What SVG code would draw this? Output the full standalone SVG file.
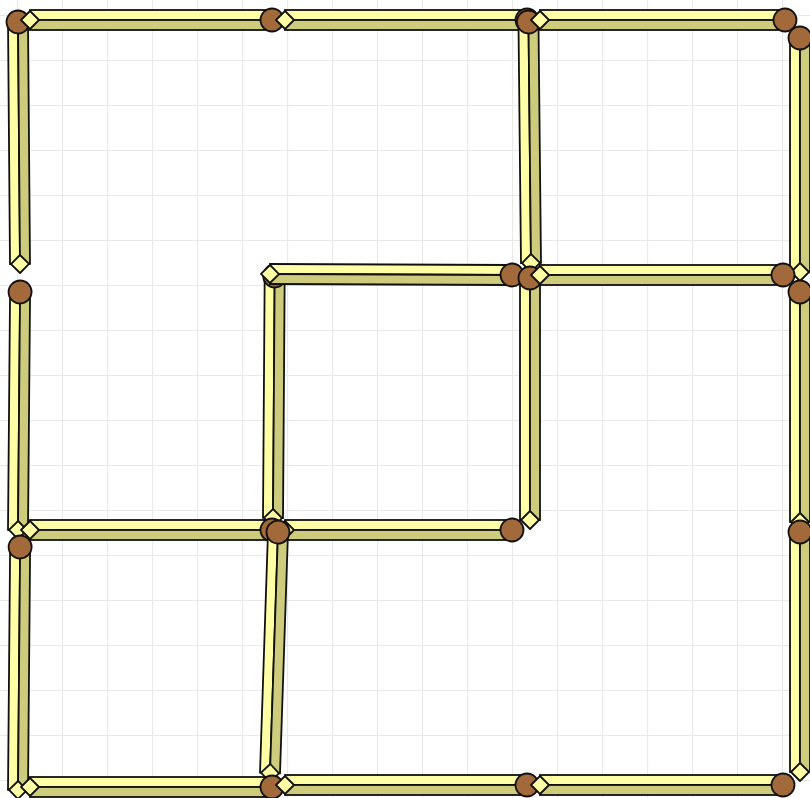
<svg xmlns="http://www.w3.org/2000/svg" width="810" height="798" viewBox="0 0 810 798">
<style>
.lt{fill:#FFFFA6;stroke:#111;stroke-width:1.8}
.dk{fill:#CDCB7C;stroke:#111;stroke-width:1.8}
.tl{fill:#FFFFA6;stroke:#111;stroke-width:1.8;stroke-linejoin:round}
.hd{fill:#A2693B;stroke:#111;stroke-width:1.8}
</style>
<defs>
<pattern id="grid" x="17" y="15" width="45" height="45" patternUnits="userSpaceOnUse">
<path d="M0 0H45M0 0V45" fill="none" stroke="#e9e9e9" stroke-width="2.2"/>
</pattern>
</defs>
<rect width="810" height="798" fill="#ffffff"/>
<rect width="810" height="798" fill="url(#grid)"/>
<g id="connectors"></g>
<g id="m1" transform="translate(20,264) rotate(-90.47)"><rect class="lt" x="0" y="-10" width="242" height="10"/><rect class="dk" x="0" y="0" width="242" height="10"/><polygon class="tl" points="0,-9 9,0 0,9 -9,0"/><circle class="hd" cx="242" cy="0" r="11.5"/></g>
<g id="m2" transform="translate(30,20)"><rect class="lt" x="0" y="-10" width="242" height="10"/><rect class="dk" x="0" y="0" width="242" height="10"/><polygon class="tl" points="0,-9 9,0 0,9 -9,0"/><circle class="hd" cx="242" cy="0" r="11.5"/></g>
<g id="m3" transform="translate(285,20)"><rect class="lt" x="0" y="-10" width="242" height="10"/><rect class="dk" x="0" y="0" width="242" height="10"/><polygon class="tl" points="0,-9 9,0 0,9 -9,0"/><circle class="hd" cx="242" cy="0" r="11.5"/></g>
<g id="m4" transform="translate(531,263) rotate(-90.6)"><rect class="lt" x="0" y="-10" width="241" height="10"/><rect class="dk" x="0" y="0" width="241" height="10"/><polygon class="tl" points="0,-9 9,0 0,9 -9,0"/><circle class="hd" cx="241" cy="0" r="11.5"/></g>
<g id="m5" transform="translate(540,20)"><rect class="lt" x="0" y="-10" width="245" height="10"/><rect class="dk" x="0" y="0" width="245" height="10"/><polygon class="tl" points="0,-9 9,0 0,9 -9,0"/><circle class="hd" cx="245" cy="0" r="11.5"/></g>
<g id="m6" transform="translate(800,272) rotate(-90)"><rect class="lt" x="0" y="-10" width="234" height="10"/><rect class="dk" x="0" y="0" width="234" height="10"/><polygon class="tl" points="0,-9 9,0 0,9 -9,0"/><circle class="hd" cx="234" cy="0" r="11.5"/></g>
<g id="m7" transform="translate(18,530) rotate(-89.5)"><rect class="lt" x="0" y="-10" width="238" height="10"/><rect class="dk" x="0" y="0" width="238" height="10"/><polygon class="tl" points="0,-9 9,0 0,9 -9,0"/><circle class="hd" cx="238" cy="0" r="11.5"/></g>
<g id="m9" transform="translate(273,518) rotate(-89.6)"><rect class="lt" x="0" y="-10" width="242" height="10"/><rect class="dk" x="0" y="0" width="242" height="10"/><polygon class="tl" points="0,-9 9,0 0,9 -9,0"/><circle class="hd" cx="242" cy="0" r="11.5"/></g>
<g id="m8" transform="translate(270,274) rotate(0.24)"><rect class="lt" x="0" y="-10" width="242" height="10"/><rect class="dk" x="0" y="0" width="242" height="10"/><polygon class="tl" points="0,-9 9,0 0,9 -9,0"/><circle class="hd" cx="242" cy="0" r="11.5"/></g>
<g id="m10" transform="translate(530,520) rotate(-90)"><rect class="lt" x="0" y="-10" width="242" height="10"/><rect class="dk" x="0" y="0" width="242" height="10"/><polygon class="tl" points="0,-9 9,0 0,9 -9,0"/><circle class="hd" cx="242" cy="0" r="11.5"/></g>
<g id="m11" transform="translate(540,275)"><rect class="lt" x="0" y="-10" width="243" height="10"/><rect class="dk" x="0" y="0" width="243" height="10"/><polygon class="tl" points="0,-9 9,0 0,9 -9,0"/><circle class="hd" cx="243" cy="0" r="11.5"/></g>
<g id="m12" transform="translate(800,522) rotate(-90)"><rect class="lt" x="0" y="-10" width="230" height="10"/><rect class="dk" x="0" y="0" width="230" height="10"/><polygon class="tl" points="0,-9 9,0 0,9 -9,0"/><circle class="hd" cx="230" cy="0" r="11.5"/></g>
<g id="m13" transform="translate(30,530)"><rect class="lt" x="0" y="-10" width="242" height="10"/><rect class="dk" x="0" y="0" width="242" height="10"/><polygon class="tl" points="0,-9 9,0 0,9 -9,0"/><circle class="hd" cx="242" cy="0" r="11.5"/></g>
<g id="m14" transform="translate(285,530)"><rect class="lt" x="0" y="-10" width="227" height="10"/><rect class="dk" x="0" y="0" width="227" height="10"/><polygon class="tl" points="0,-9 9,0 0,9 -9,0"/><circle class="hd" cx="227" cy="0" r="11.5"/></g>
<g id="m15" transform="translate(270,773) rotate(-88.1)"><rect class="lt" x="0" y="-10" width="241" height="10"/><rect class="dk" x="0" y="0" width="241" height="10"/><polygon class="tl" points="0,-9 9,0 0,9 -9,0"/><circle class="hd" cx="241" cy="0" r="11.5"/></g>
<g id="m16" transform="translate(18,790) rotate(-89.5)"><rect class="lt" x="0" y="-10" width="243" height="10"/><rect class="dk" x="0" y="0" width="243" height="10"/><polygon class="tl" points="0,-9 9,0 0,9 -9,0"/><circle class="hd" cx="243" cy="0" r="11.5"/></g>
<g id="m17" transform="translate(800,772) rotate(-90)"><rect class="lt" x="0" y="-10" width="240" height="10"/><rect class="dk" x="0" y="0" width="240" height="10"/><polygon class="tl" points="0,-9 9,0 0,9 -9,0"/><circle class="hd" cx="240" cy="0" r="11.5"/></g>
<g id="m18" transform="translate(30,787)"><rect class="lt" x="0" y="-10" width="242" height="10"/><rect class="dk" x="0" y="0" width="242" height="10"/><polygon class="tl" points="0,-9 9,0 0,9 -9,0"/><circle class="hd" cx="242" cy="0" r="11.5"/></g>
<g id="m19" transform="translate(285,785)"><rect class="lt" x="0" y="-10" width="242" height="10"/><rect class="dk" x="0" y="0" width="242" height="10"/><polygon class="tl" points="0,-9 9,0 0,9 -9,0"/><circle class="hd" cx="242" cy="0" r="11.5"/></g>
<g id="m20" transform="translate(540,785)"><rect class="lt" x="0" y="-10" width="243" height="10"/><rect class="dk" x="0" y="0" width="243" height="10"/><polygon class="tl" points="0,-9 9,0 0,9 -9,0"/><circle class="hd" cx="243" cy="0" r="11.5"/></g>
</svg>
